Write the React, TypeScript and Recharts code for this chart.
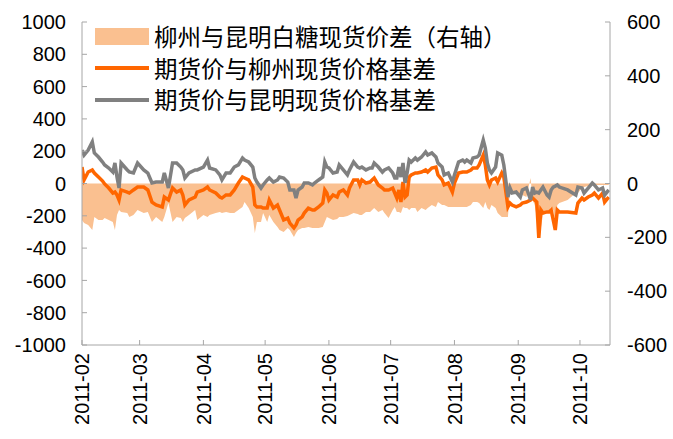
import React from "react";
import { ComposedChart, Area, Line, XAxis, YAxis } from "recharts";

// days since 2011-02-01
const DAYS = [
  0, 1, 3, 5, 6, 8, 10, 11, 13, 15,
  16, 17, 18, 19, 22, 23, 25, 27, 30, 32,
  34, 36, 39, 40, 42, 44, 46, 48, 49, 50,
  52, 55, 56, 59, 61, 62, 65, 67, 68, 70,
  72, 74, 76, 78, 79, 81, 83, 84, 85, 87,
  88, 90, 91, 93, 95, 96, 98, 100, 101, 103,
  104, 105, 107, 108, 110, 112, 113, 115, 117, 118,
  119, 120, 122, 124, 125, 127, 129, 130, 132, 134,
  135, 136, 138, 140, 141, 142, 144, 146, 147, 149,
  151, 152, 153, 154, 155, 156, 157, 158, 159, 160,
  162, 163, 165, 167, 168, 170, 172, 173, 175, 176,
  178, 180, 181, 183, 185, 186, 187, 189, 190, 192,
  193, 195, 196, 197, 198, 199, 201, 202, 204, 205,
  207, 208, 209, 211, 213, 214, 216, 218, 219, 220,
  221, 222, 223, 224, 226, 227, 228, 229, 230, 231,
  232, 236, 240, 241, 243, 244, 246, 248, 249, 251,
  253, 254, 256,
];

// 柳州与昆明白糖现货价差（右轴）
const SPREAD = [
  -136, -147, -154, -173, -124, -136, -136, -128, -136, -143,
  -173, -117, -98, -106, -110, -124, -117, -98, -110, -106,
  -143, -124, -143, -124, -72, -143, -124, -128, -143, -128,
  -117, -98, -136, -117, -124, -117, -110, -106, -110, -106,
  -110, -110, -98, -87, -69, -91, -124, -184, -143, -143,
  -110, -143, -117, -143, -162, -173, -180, -165, -173, -199,
  -184, -173, -165, -165, -162, -165, -165, -165, -162, -143,
  -124, -128, -136, -132, -124, -124, -121, -117, -110, -113,
  -117, -117, -106, -106, -98, -91, -106, -98, -110, -128,
  -98, -87, -106, -106, -110, -87, -91, -91, -98, -91,
  -91, -106, -91, -98, -91, -80, -87, -69, -80, -80,
  -87, -87, -87, -87, -87, -87, -87, -80, -69, -69,
  -72, -91, -69, -91, -98, -80, -91, -110, -124, -124,
  -124, -24, -32, -35, -43, -43, -50, 20, -61, -80,
  -124, -173, -165, -117, -110, -98, -87, -98, -147, -80,
  -72, -61, -35, -35, -17, -13, -9, -6, -6, -6,
  -6, -6, -6,
];

// 期货价与柳州现货价格基差
const BASIS_LZ = [
  102, 22, 71, 84, 65, 40, 15, -3, -28, -59,
  -53, -71, -102, -40, -53, -59, -40, -22, -22, -40,
  -115, -133, -145, -84, -102, -28, -53, -40, -71, -133,
  -102, -84, -53, -40, -22, -40, -59, -84, -90, -71,
  -71, -40, 3, 40, 34, 22, -22, -133, -145, -145,
  -152, -152, -102, -152, -133, -164, -226, -214, -245, -275,
  -257, -226, -207, -183, -152, -164, -164, -145, -121, -40,
  -59, -102, -71, -84, -53, -40, -71, -28, 22, 22,
  -9, 22, 3, 9, 22, 34, -9, -28, -40, -40,
  -28, -59, -90, -40, -115, 9, -84, -71, 40, 53,
  65, 65, 71, 84, 71, 96, 102, 53, 22, -9,
  3, -53, 3, 65, 71, 71, 71, 84, 96, 96,
  115, 176, 115, 22, -9, 22, 34, 9, 65, 40,
  -145, -121, -133, -145, -133, -121, -115, -102, -90, -102,
  -115, -337, -164, -183, -176, -176, -164, -226, -288, -164,
  -176, -176, -183, -121, -90, -102, -84, -71, -59, -90,
  -59, -115, -84,
];

// 期货价与昆明现货价格基差
const BASIS_KM = [
  207, 176, 207, 257, 189, 164, 133, 115, 96, 71,
  127, 40, -28, 127, 84, 71, 65, 127, 84, 65,
  3, 9, 9, 65, -28, 127, 127, 102, 84, 34,
  65, 84, 84, 102, 145, 96, 84, 53, 22, 65,
  65, 102, 115, 158, 145, 133, 102, 34, 9, -28,
  -9, 22, 34, 9, 22, 40, 34, 9, -40, -40,
  -90, -40, -22, 3, 3, -9, 3, 22, 40, 133,
  102, 96, 65, 71, 115, 84, 53, 84, 133, 102,
  96, 102, 84, 96, 96, 127, 102, 71, 84, 96,
  65, 34, 34, 102, 40, 127, 3, 65, 145, 133,
  158, 145, 164, 195, 176, 189, 164, 127, 102, 53,
  65, 9, 53, 133, 145, 133, 145, 127, 158, 164,
  176, 269, 220, 127, 84, 65, 102, 189, 176, 115,
  -84, -28, -59, -53, -84, -40, -28, -102, -22, -59,
  -53, -59, -40, -22, -71, -84, -40, -22, -16, -9,
  -22, -40, -71, -22, -28, -59, -28, 3, -9, -40,
  -28, -71, -40,
];

const MONTHS = ["2011-02", "2011-03", "2011-04", "2011-05", "2011-06", "2011-07", "2011-08", "2011-09", "2011-10"];
const LEFT_TICKS = [-1000, -800, -600, -400, -200, 0, 200, 400, 600, 800, 1000];
const RIGHT_TICKS = [-600, -400, -200, 0, 200, 400, 600];

const DAY_MS = 86400000;
const T0 = Date.UTC(2011, 1, 1);
const MONTH_TICKS = MONTHS.map((m, i) => Date.UTC(2011, 1 + i, 1));

const data = DAYS.map((d, i) => ({
  t: T0 + d * DAY_MS,
  spread: SPREAD[i],
  lz: BASIS_LZ[i],
  km: BASIS_KM[i],
}));

const ORANGE = "#FF6600";
const GRAY = "#808080";
const PEACH = "#FAC090";
const AXIS = "#A6A6A6";
const tickFont = { fontSize: 20, fill: "#000", fontFamily: "'Liberation Sans', Arial, sans-serif" };

function MonthTick({ x, y, payload }: any) {
  const idx = MONTH_TICKS.indexOf(payload.value);
  return (
    <g transform={`translate(${x},${y})`}>
      <text transform="rotate(-90)" textAnchor="end" dy="0.36em" {...tickFont}>
        {MONTHS[idx]}
      </text>
    </g>
  );
}

const legendItems = [
  { label: "柳州与昆明白糖现货价差（右轴）", kind: "area", color: PEACH },
  { label: "期货价与柳州现货价格基差", kind: "line", color: ORANGE },
  { label: "期货价与昆明现货价格基差", kind: "line", color: GRAY },
];

export default function App() {
  return (
    <div style={{ position: "absolute", left: 0, top: 0, width: 673, height: 439, background: "#fff" }}>
      <ComposedChart width={673} height={439} data={data} margin={{ top: 22, right: 0, bottom: 4, left: 0 }}>
        <XAxis
          dataKey="t"
          type="number"
          domain={[T0, T0 + 256.6 * DAY_MS]}
          ticks={MONTH_TICKS}
          allowDataOverflow
          height={90}
          stroke={AXIS}
          tickSize={-5}
          tickMargin={13}
          tick={<MonthTick />}
          interval={0}
        />
        <YAxis
          yAxisId="left"
          domain={[-1000, 1000]}
          ticks={LEFT_TICKS}
          width={82}
          stroke={AXIS}
          tickSize={-5}
          tickMargin={21}
          tick={tickFont}
          interval={0}
        />
        <YAxis
          yAxisId="right"
          orientation="right"
          domain={[-600, 600]}
          ticks={RIGHT_TICKS}
          width={63}
          stroke={AXIS}
          tickSize={-5}
          tickMargin={22}
          tick={tickFont}
          interval={0}
        />
        <Area
          yAxisId="right"
          dataKey="spread"
          type="linear"
          fill={PEACH}
          fillOpacity={1}
          stroke="none"
          isAnimationActive={false}
        />
        <Line yAxisId="left" dataKey="lz" type="linear" stroke={ORANGE} strokeWidth={3.5} dot={false} isAnimationActive={false} />
        <Line yAxisId="left" dataKey="km" type="linear" stroke={GRAY} strokeWidth={3.5} dot={false} isAnimationActive={false} />
      </ComposedChart>
      <div style={{ position: "absolute", left: 95, top: 21, fontFamily: "'Noto Sans CJK SC', sans-serif", fontSize: 23.5, color: "#000" }}>
        {legendItems.map((it) => (
          <div key={it.label} style={{ display: "flex", alignItems: "center", height: 31.5 }}>
            <div style={{ width: 54, height: it.kind === "area" ? 17 : 4, background: it.color, marginRight: 5 }} />
            <span style={{ lineHeight: "31.5px" }}>{it.label}</span>
          </div>
        ))}
      </div>
    </div>
  );
}
